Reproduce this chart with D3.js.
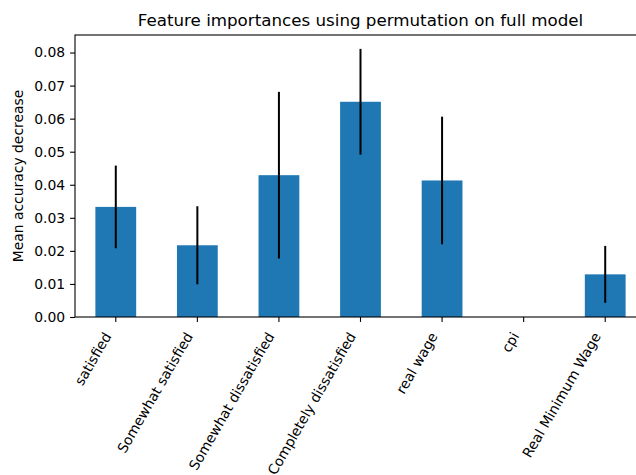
<!DOCTYPE html>
<html>
<head>
<meta charset="utf-8">
<script src="https://cdn.jsdelivr.net/npm/d3@7"></script>
<style>
  html, body { margin: 0; padding: 0; background: #fff; }
  svg { display: block; font-family: "DejaVu Sans", sans-serif; }
</style>
</head>
<body>
<svg id="chart" width="636" height="475"></svg>
<script>
// Permutation importances per feature: mean decrease and its standard deviation
const features = ["satisfied", "Somewhat satisfied", "Somewhat dissatisfied",
  "Completely dissatisfied", "real wage", "cpi", "Real Minimum Wage"];
const importanceMean = [0.0333, 0.0217, 0.0429, 0.0651, 0.0413, 0.0, 0.0129];
const importanceStd = [0.0125, 0.0118, 0.0252, 0.0160, 0.0193, 0.0, 0.0086];
const yTicks = [0.00, 0.01, 0.02, 0.03, 0.04, 0.05, 0.06, 0.07, 0.08];

const svg = d3.select("#chart");
const plot = { left: 75, right: 646, top: 35, bottom: 317 };

const x = d3.scaleBand()
  .domain(features)
  .range([plot.left, plot.right])
  .paddingInner(0.5)
  .paddingOuter(0.25);

const y = d3.scaleLinear()
  .domain([0, 0.0853])
  .range([plot.bottom, plot.top]);

// Bars
svg.append("g").selectAll("rect")
  .data(features)
  .join("rect")
  .attr("x", d => x(d))
  .attr("width", x.bandwidth())
  .attr("y", (d, i) => y(importanceMean[i]))
  .attr("height", (d, i) => y(0) - y(importanceMean[i]))
  .attr("fill", "#1f77b4");

// Error bars (one standard deviation)
svg.append("g").selectAll("line")
  .data(features)
  .join("line")
  .attr("x1", d => x(d) + x.bandwidth() / 2)
  .attr("x2", d => x(d) + x.bandwidth() / 2)
  .attr("y1", (d, i) => y(importanceMean[i] - importanceStd[i]))
  .attr("y2", (d, i) => y(importanceMean[i] + importanceStd[i]))
  .attr("stroke", "#000")
  .attr("stroke-width", 2);

// Y axis
const yAxis = svg.append("g")
  .attr("transform", `translate(${plot.left},0)`)
  .call(d3.axisLeft(y).tickValues(yTicks).tickFormat(d3.format(".2f")).tickSizeOuter(0).tickSize(4.9).tickPadding(4.9));
yAxis.select(".domain").remove();
yAxis.selectAll("line").attr("stroke", "#000").attr("stroke-width", 1.1);
yAxis.selectAll("text").attr("font-size", "13.9px").attr("fill", "#000")
  .attr("font-family", "DejaVu Sans, sans-serif");

// X axis with rotated labels
const xAxis = svg.append("g")
  .attr("transform", `translate(0,${plot.bottom})`)
  .call(d3.axisBottom(x).tickSizeOuter(0).tickSize(4.9));
xAxis.select(".domain").remove();
xAxis.selectAll("line").attr("stroke", "#000").attr("stroke-width", 1.1);
xAxis.selectAll("text")
  .attr("font-size", "13.9px")
  .attr("fill", "#000")
  .attr("font-family", "DejaVu Sans, sans-serif")
  .attr("text-anchor", "end")
  .attr("dy", null)
  .attr("y", null)
  .attr("transform", "translate(-4,19) rotate(-60)");

// Spines
const spines = svg.append("g").attr("stroke", "#000").attr("stroke-width", 1.1).attr("fill", "none");
spines.append("rect")
  .attr("x", plot.left).attr("y", plot.top)
  .attr("width", plot.right - plot.left).attr("height", plot.bottom - plot.top);

// Title
svg.append("text")
  .attr("x", (plot.left + plot.right) / 2)
  .attr("y", plot.top - 9)
  .attr("text-anchor", "middle")
  .attr("font-size", "16.7px")
  .attr("fill", "#000")
  .text("Feature importances using permutation on full model");

// Y label
svg.append("text")
  .attr("transform", `translate(23,${(plot.top + plot.bottom) / 2}) rotate(-90)`)
  .attr("text-anchor", "middle")
  .attr("font-size", "13.9px")
  .attr("fill", "#000")
  .text("Mean accuracy decrease");
</script>
</body>
</html>
